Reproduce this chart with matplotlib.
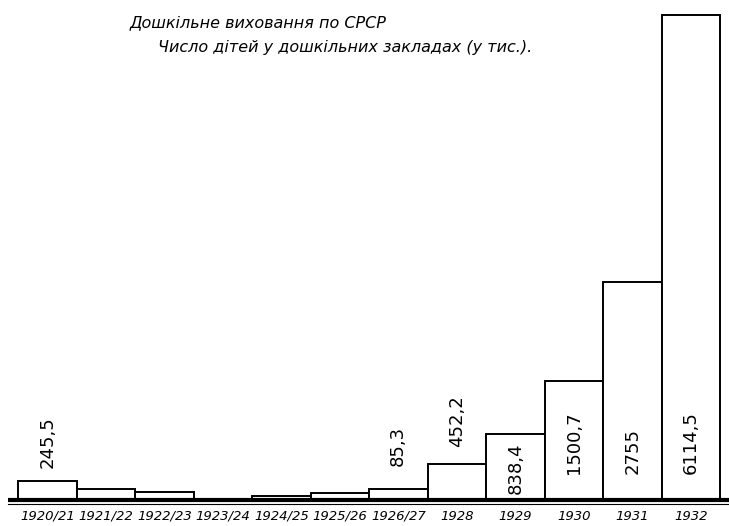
import matplotlib
matplotlib.use("Agg")
import matplotlib.pyplot as plt

years = ["1920/21", "1921/22", "1922/23", "1923/24", "1924/25", "1925/26",
         "1926/27", "1928", "1929", "1930", "1931", "1932"]
# thousands of children (unlabelled bars)
children = [245.5, 136, 102, 0, 51, 94, 140, 452.2, 838.4, 1500.7, 2755, 6114.5]
labels = ["245,5", "", "", "", "", "", "85,3", "452,2", "838,4", "1500,7", "2755", "6114,5"]

px = 0.0793  # pixels per thousand
bar_px = 58.5

fig = plt.figure(figsize=(7.29, 5.26), dpi=100)
ax = fig.add_axes([0, 0, 1, 1])
ax.set_xlim(-0.5 - 18 / bar_px, 11.5 + 9 / bar_px)
ax.set_ylim(-26 / px, 500 / px)
ax.axis("off")

x = list(range(len(years)))
ax.bar(x, children, width=1, facecolor="white", edgecolor="black", linewidth=1.4, zorder=2)

# double base line
ax.plot([-0.5 - 10 / bar_px, 11.7], [0, 0], color="black", lw=3, zorder=3, solid_capstyle="butt")
ax.plot([-0.5 - 10 / bar_px, 11.7], [-4 / px, -4 / px], color="black", lw=0.8, zorder=3)

for i, (v, lab) in enumerate(zip(children, labels)):
    if not lab:
        continue
    if v < 600:
        gap = {0: 13, 6: 23, 7: 17}.get(i, 15)
        y = v + gap / px
    elif v < 1000:
        y = 6 / px
    else:
        y = 26 / px
    ax.text(i, y, lab, rotation=90, ha="center", va="bottom", fontsize=13,
            family="DejaVu Sans", zorder=4)

for i, yr in enumerate(years):
    ax.text(i, -16 / px, yr, ha="center", va="center", fontsize=9.5,
            style="italic", zorder=4)

fig.text(130 / 729, 1 - 27 / 526, "Дошкільне виховання по СРСР", fontsize=11.5,
         style="italic", ha="left", va="baseline")
fig.text(158 / 729, 1 - 52 / 526, "Число дітей у дошкільних закладах (у тис.).", fontsize=11.5,
         style="italic", ha="left", va="baseline")

fig.savefig("out.png", dpi=100)
